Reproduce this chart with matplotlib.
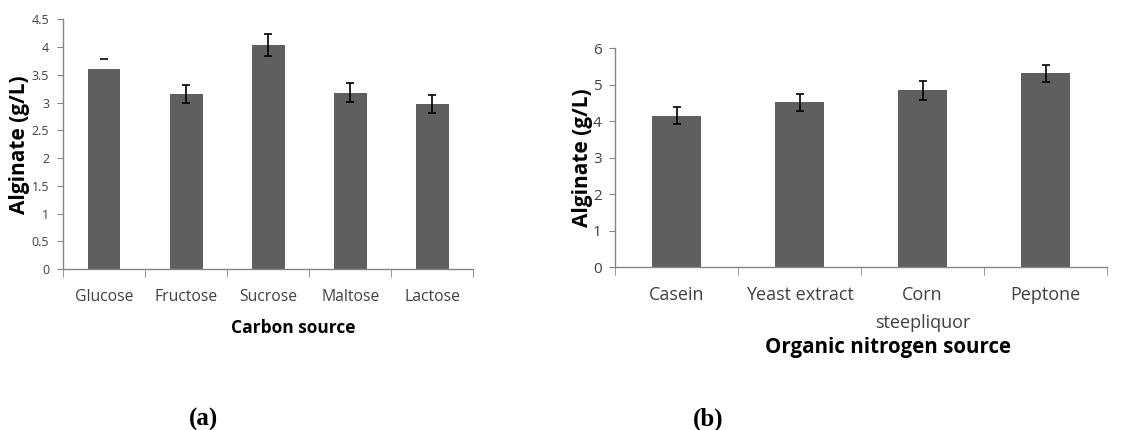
import numpy as np
import matplotlib
matplotlib.use("Agg")
import matplotlib.pyplot as plt

plt.rcParams['font.family'] = ['Open Sans', 'DejaVu Sans']

# panel (a): carbon source
carbon = ['Glucose', 'Fructose', 'Sucrose', 'Maltose', 'Lactose']
carbon_vals = [3.60, 3.15, 4.04, 3.18, 2.98]
carbon_err = [0.18, 0.16, 0.20, 0.17, 0.16]

# panel (b): organic nitrogen source
nitro = ['Casein', 'Yeast extract', 'Corn\nsteepliquor', 'Peptone']
nitro_vals = [4.15, 4.52, 4.85, 5.31]
nitro_err = [0.24, 0.23, 0.26, 0.24]

bar_col = '#5f5f5f'
spine_col = '#868686'
tick_col = '#404040'


def panel(ax, cats, vals, errs, ymax, ystep, xlabel, xfs, yfs, labfs, xlabfs,
          cap_only_first=False):
    x = np.arange(len(cats))
    ax.bar(x, vals, width=0.4, color=bar_col, zorder=2)
    idx = x[1:] if cap_only_first else x
    ax.errorbar(idx, np.array(vals)[idx], yerr=np.array(errs)[idx], fmt='none',
                ecolor='black', elinewidth=1.2, capsize=3, capthick=1.2, zorder=3)
    if cap_only_first:
        ax.plot([0], [vals[0] + errs[0]], marker='_', ms=6, mew=1.2, color='black', zorder=3)
    ax.set_xlim(-0.5, len(cats) - 0.5)
    ax.set_ylim(0, ymax)
    ticks = np.arange(0, ymax + 1e-9, ystep)
    ax.set_yticks(ticks)
    ax.set_yticklabels(['%g' % t for t in ticks])
    ax.set_xticks(x)
    ax.set_xticklabels(cats, linespacing=1.7)
    ax.set_xticks(np.arange(len(cats) + 1) - 0.5, minor=True)
    ax.tick_params(axis='x', which='major', length=0, pad=14, labelsize=xfs, colors=tick_col)
    ax.tick_params(axis='x', which='minor', length=6, direction='out', color=spine_col)
    ax.tick_params(axis='y', length=4, direction='out', color=spine_col,
                   labelsize=yfs, colors=tick_col, pad=6)
    for s in ['top', 'right']:
        ax.spines[s].set_visible(False)
    for s in ['left', 'bottom']:
        ax.spines[s].set_color(spine_col)
        ax.spines[s].set_linewidth(1.0)
    ax.set_ylabel('Alginate (g/L)', fontsize=labfs, fontweight='bold', va='center')
    ax.set_xlabel(xlabel, fontsize=xlabfs, fontweight='bold', va='center')


fig = plt.figure(figsize=(11.46, 4.30), dpi=100)
ax1 = fig.add_axes([0.055, 0.374, 0.358, 0.581])
ax2 = fig.add_axes([0.537, 0.379, 0.429, 0.509])

panel(ax1, carbon, carbon_vals, carbon_err, 4.5, 0.5, 'Carbon source',
      11.3, 9, 15, 12.5, cap_only_first=True)
panel(ax2, nitro, nitro_vals, nitro_err, 6, 1, 'Organic nitrogen source',
      13, 11, 15, 14.8)

ax1.xaxis.set_label_coords((293 - 63) / 410, -(328 - 269) / 250)
ax1.yaxis.set_label_coords(-(63 - 19) / 410, 0.5)
ax2.xaxis.set_label_coords((888 - 615) / 492, -(348 - 267) / 219)
ax2.yaxis.set_label_coords(-(615 - 582) / 492, 0.5)

fig.text(204 / 1146, 1 - 408 / 430, '(a)', fontsize=18, fontweight='bold',
         family='Liberation Serif', ha='center', va='top')
fig.text(708 / 1146, 1 - 408 / 430, '(b)', fontsize=18, fontweight='bold',
         family='Liberation Serif', ha='center', va='top')

fig.savefig('out.png', dpi=100)
